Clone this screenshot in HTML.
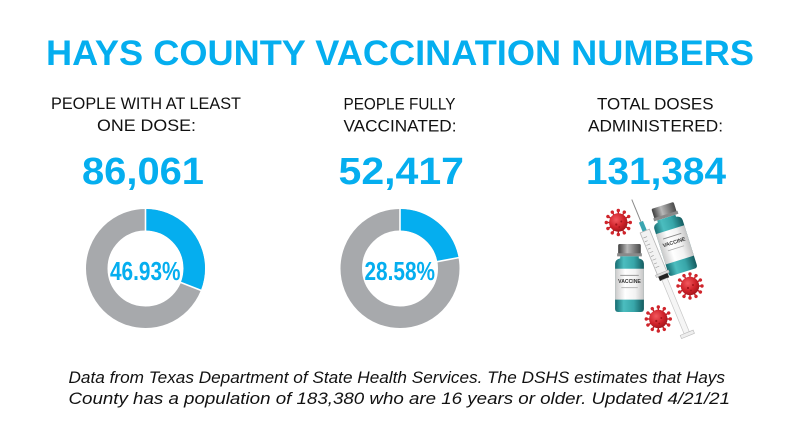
<!DOCTYPE html>
<html>
<head>
<meta charset="utf-8">
<style>
  html,body{margin:0;padding:0;background:#fff;}
  svg{display:block;}
</style>
</head>
<body>
<svg width="800" height="443" viewBox="0 0 800 443" xmlns="http://www.w3.org/2000/svg">
  <defs>
    <radialGradient id="vg" cx="0.38" cy="0.35" r="0.75">
      <stop offset="0" stop-color="#f2585e"/>
      <stop offset="0.55" stop-color="#d0232b"/>
      <stop offset="1" stop-color="#981117"/>
    </radialGradient>
    <linearGradient id="teal" x1="0" x2="1" y1="0" y2="0">
      <stop offset="0" stop-color="#176c71"/>
      <stop offset="0.3" stop-color="#4bbdbf"/>
      <stop offset="0.65" stop-color="#38a6a9"/>
      <stop offset="1" stop-color="#145b5f"/>
    </linearGradient>
    <linearGradient id="capg" x1="0" x2="1" y1="0" y2="0">
      <stop offset="0" stop-color="#3e3e3e"/>
      <stop offset="0.4" stop-color="#b8b8b8"/>
      <stop offset="1" stop-color="#4a4a4a"/>
    </linearGradient>
    <linearGradient id="lab" x1="0" x2="1" y1="0" y2="0">
      <stop offset="0" stop-color="#c9c9c9"/>
      <stop offset="0.35" stop-color="#ffffff"/>
      <stop offset="0.7" stop-color="#f2f2f2"/>
      <stop offset="1" stop-color="#c4c4c4"/>
    </linearGradient>
    <g id="sp">
      <line x1="0" y1="-8" x2="0" y2="-11.5" stroke="#b8171e" stroke-width="1.4"/>
      <circle cx="0" cy="-12" r="1.7" fill="#d0242b"/>
    </g>
    <g id="virus">
      <use href="#sp"/>
      <use href="#sp" transform="rotate(30)"/>
      <use href="#sp" transform="rotate(60)"/>
      <use href="#sp" transform="rotate(90)"/>
      <use href="#sp" transform="rotate(120)"/>
      <use href="#sp" transform="rotate(150)"/>
      <use href="#sp" transform="rotate(180)"/>
      <use href="#sp" transform="rotate(210)"/>
      <use href="#sp" transform="rotate(240)"/>
      <use href="#sp" transform="rotate(270)"/>
      <use href="#sp" transform="rotate(300)"/>
      <use href="#sp" transform="rotate(330)"/>
      <circle r="9.2" fill="url(#vg)"/>
      <circle cx="-2" cy="2" r="1.1" fill="#a3141a"/>
      <circle cx="3" cy="-1" r="1" fill="#a3141a"/>
      <circle cx="1" cy="4.5" r="0.9" fill="#a3141a"/>
    </g>
    <g id="vial">
      <rect x="-11" y="-33" width="22" height="10" rx="1.5" fill="url(#capg)"/>
      <rect x="-12" y="-24" width="24" height="3" fill="#8a8a8a"/>
      <path d="M-9,-21 h18 v2 q5,1 5,5 v44 q0,3 -3,3 h-22 q-3,0 -3,-3 v-44 q0,-4 5,-5 z" fill="url(#teal)"/>
      <rect x="-14" y="-9" width="28" height="30" fill="url(#lab)"/>
      <rect x="-9" y="-3" width="18" height="0.8" fill="#888"/>
      <text x="0" y="5" font-size="5" font-weight="bold" text-anchor="middle" fill="#333" font-family="Liberation Sans, sans-serif">VACCINE</text>
      <rect x="-8" y="9" width="16" height="0.8" fill="#aaa"/>
    </g>
  </defs>

  <!-- Title -->
  <text x="46" y="65" font-family="Liberation Sans, sans-serif" font-weight="bold" font-size="35" fill="#05aeef" textLength="708" lengthAdjust="spacingAndGlyphs">HAYS COUNTY VACCINATION NUMBERS</text>

  <!-- Column labels -->
  <g font-family="Liberation Sans, sans-serif" font-size="17" fill="#111">
    <text x="51" y="109" textLength="190" lengthAdjust="spacingAndGlyphs">PEOPLE WITH AT LEAST</text>
    <text x="97" y="131" textLength="99" lengthAdjust="spacingAndGlyphs">ONE DOSE:</text>
    <text x="343.5" y="109.5" textLength="112" lengthAdjust="spacingAndGlyphs">PEOPLE FULLY</text>
    <text x="343.5" y="131.5" textLength="113" lengthAdjust="spacingAndGlyphs">VACCINATED:</text>
    <text x="597" y="109.5" textLength="116.5" lengthAdjust="spacingAndGlyphs">TOTAL DOSES</text>
    <text x="588" y="131.5" textLength="135" lengthAdjust="spacingAndGlyphs">ADMINISTERED:</text>
  </g>

  <!-- Big numbers -->
  <g font-family="Liberation Sans, sans-serif" font-weight="bold" font-size="38" fill="#05aeef">
    <text x="82" y="184" textLength="122" lengthAdjust="spacingAndGlyphs">86,061</text>
    <text x="338.5" y="184" textLength="125.5" lengthAdjust="spacingAndGlyphs">52,417</text>
    <text x="586" y="184" textLength="140" lengthAdjust="spacingAndGlyphs">131,384</text>
  </g>

  <!-- Donut 1 -->
  <circle cx="145.5" cy="268.5" r="48.75" fill="none" stroke="#a7a9ac" stroke-width="21.5"/>
  <circle cx="145.5" cy="268.5" r="48.75" fill="none" stroke="#05aeef" stroke-width="21.5"
          stroke-dasharray="94.9 400" transform="rotate(-90 145.5 268.5)"/>
  <line x1="145.5" y1="207" x2="145.5" y2="231" stroke="#fff" stroke-width="1.6"/>
  <line x1="179.9" y1="282.1" x2="202.3" y2="290.9" stroke="#fff" stroke-width="1.6"/>

  <!-- Donut 2 -->
  <circle cx="400" cy="268.5" r="48.75" fill="none" stroke="#a7a9ac" stroke-width="21.5"/>
  <circle cx="400" cy="268.5" r="48.75" fill="none" stroke="#05aeef" stroke-width="21.5"
          stroke-dasharray="67.6 400" transform="rotate(-90 400 268.5)"/>
  <line x1="400" y1="207" x2="400" y2="231" stroke="#fff" stroke-width="1.6"/>
  <line x1="436.4" y1="261.8" x2="460" y2="257.4" stroke="#fff" stroke-width="1.6"/>

  <!-- Percent labels -->
  <g font-family="Liberation Sans, sans-serif" font-weight="bold" font-size="26" fill="#05aeef">
    <text x="110" y="280" textLength="70.5" lengthAdjust="spacingAndGlyphs">46.93%</text>
    <text x="364.5" y="280" textLength="70.5" lengthAdjust="spacingAndGlyphs">28.58%</text>
  </g>

  <!-- Vaccine illustration -->
  <use href="#virus" transform="translate(618.3 222.5)"/>
  <use href="#vial" transform="translate(673 238.8) rotate(-17.5) scale(1.06)"/>
  <use href="#vial" transform="translate(629.5 278) scale(1.03)"/>
  <g transform="translate(660 268) rotate(-22.4)">
    <line x1="0" y1="-74" x2="0" y2="-50" stroke="#8a8a8a" stroke-width="1"/>
    <rect x="-2.2" y="-50" width="4.4" height="10" fill="#3aa5b0"/>
    <rect x="-5" y="-40" width="10" height="46" fill="#f2f2f2" stroke="#b5b5b5" stroke-width="0.8"/>
    <g stroke="#9a9a9a" stroke-width="0.6">
      <line x1="-4" y1="-34" x2="0" y2="-34"/>
      <line x1="-4" y1="-30" x2="-1" y2="-30"/>
      <line x1="-4" y1="-26" x2="0" y2="-26"/>
      <line x1="-4" y1="-22" x2="-1" y2="-22"/>
      <line x1="-4" y1="-18" x2="0" y2="-18"/>
      <line x1="-4" y1="-14" x2="-1" y2="-14"/>
      <line x1="-4" y1="-10" x2="0" y2="-10"/>
      <line x1="-4" y1="-6" x2="-1" y2="-6"/>
      <line x1="-4" y1="-2" x2="0" y2="-2"/>
    </g>
    <rect x="-7" y="5" width="14" height="2.5" fill="#ddd" stroke="#aaa" stroke-width="0.5"/>
    <rect x="-5" y="7.5" width="10" height="4.5" fill="#222"/>
    <rect x="-2.8" y="12" width="5.6" height="58" fill="#f5f5f5" stroke="#c8c8c8" stroke-width="0.7"/>
    <rect x="-7" y="70" width="14" height="3.5" fill="#eee" stroke="#bbb" stroke-width="0.6"/>
  </g>
  <use href="#virus" transform="translate(690 286)"/>
  <use href="#virus" transform="translate(658.3 319)"/>

  <!-- Footer -->
  <g font-family="Liberation Sans, sans-serif" font-style="italic" font-size="16.5" fill="#111">
    <text x="68.5" y="383" textLength="656.5" lengthAdjust="spacingAndGlyphs">Data from Texas Department of State Health Services. The DSHS estimates that Hays</text>
    <text x="68.5" y="404" textLength="661.5" lengthAdjust="spacingAndGlyphs">County has a population of 183,380 who are 16 years or older. Updated 4/21/21</text>
  </g>
</svg>
</body>
</html>
